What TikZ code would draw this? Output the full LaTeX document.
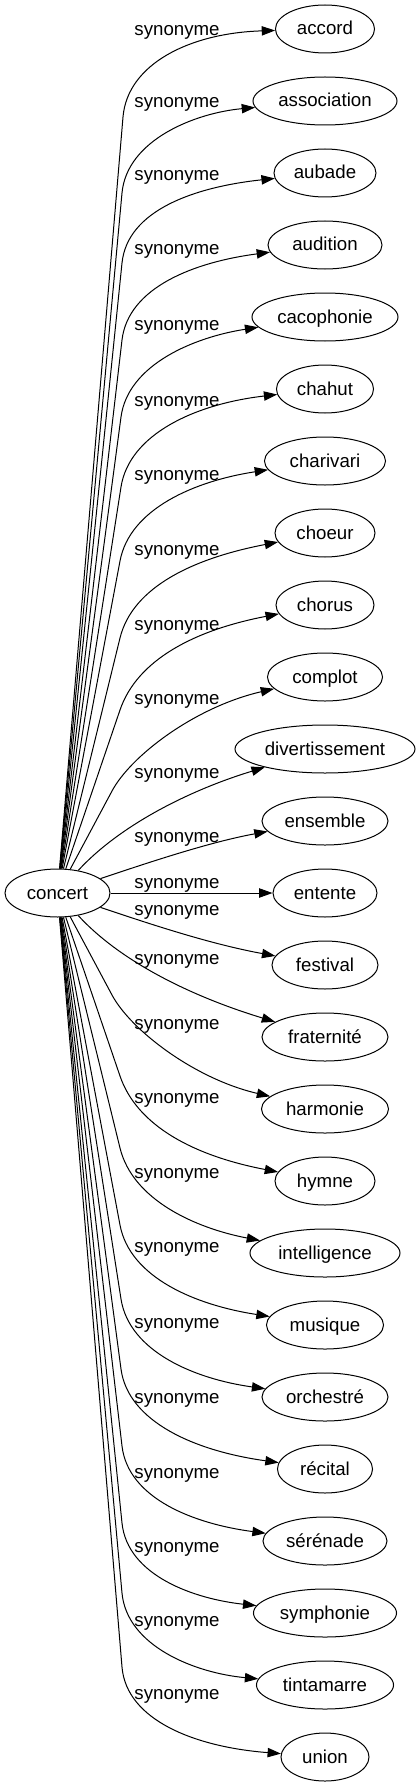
\documentclass[tikz,border=0pt]{standalone}
\usepackage{fontspec}
\setmainfont{Liberation Sans}
\usetikzlibrary{shapes.geometric,arrows.meta,calc}

\begin{document}
\begin{tikzpicture}[x=0.75pt,y=-0.75pt,line width=0.75pt,
    font=\fontsize{14pt}{17pt}\selectfont,
    word/.style={draw,ellipse,inner sep=1pt,minimum height=36pt,text height=12pt,text depth=3pt},
    rel/.style={inner sep=0pt,text height=12pt,text depth=3pt},
    syn/.style={-{Triangle[length=10pt,width=7pt]}}]
  \useasboundingbox (0,0) rectangle (420,1787);
  \draw
    (57.5,893) node[word,minimum width=78.8pt] (concert) {concert}
    (325,29) node[word,minimum width=74.3pt] (accord) {accord}
    (325,101) node[word,minimum width=108pt] (association) {association}
    (325,173) node[word,minimum width=76.5pt] (aubade) {aubade}
    (325,245) node[word,minimum width=85.5pt] (audition) {audition}
    (325,317) node[word,minimum width=109.5pt] (cacophonie) {cacophonie}
    (325,389) node[word,minimum width=72.8pt] (chahut) {chahut}
    (325,461) node[word,minimum width=90.8pt] (charivari) {charivari}
    (325,533) node[word,minimum width=75pt] (choeur) {choeur}
    (325,605) node[word,minimum width=73.5pt] (chorus) {chorus}
    (325,677) node[word,minimum width=86.3pt] (complot) {complot}
    (325,749) node[word,minimum width=135pt] (divertissement) {divertissement}
    (325,821) node[word,minimum width=94.5pt] (ensemble) {ensemble}
    (325,893) node[word,minimum width=78pt] (entente) {entente}
    (325,965) node[word,minimum width=79.5pt] (festival) {festival}
    (325,1037) node[word,minimum width=94.5pt] (fraternite) {fraternité}
    (325,1109) node[word,minimum width=95.3pt] (harmonie) {harmonie}
    (325,1181) node[word,minimum width=75pt] (hymne) {hymne}
    (325,1253) node[word,minimum width=112.5pt] (intelligence) {intelligence}
    (325,1325) node[word,minimum width=87.8pt] (musique) {musique}
    (325,1397) node[word,minimum width=94.5pt] (orchestre) {orchestré}
    (325,1469) node[word,minimum width=71.3pt] (recital) {récital}
    (325,1541) node[word,minimum width=93pt] (serenade) {sérénade}
    (325,1613) node[word,minimum width=107.3pt] (symphonie) {symphonie}
    (325,1685) node[word,minimum width=102.8pt] (tintamarre) {tintamarre}
    (325,1757) node[word,minimum width=66pt] (union) {union};
  \path
    (177,30) node[rel] (s0) {synonyme}
    (177,102) node[rel] (s1) {synonyme}
    (177,175) node[rel] (s2) {synonyme}
    (177,249) node[rel] (s3) {synonyme}
    (177,324) node[rel] (s4) {synonyme}
    (177,400) node[rel] (s5) {synonyme}
    (177,474) node[rel] (s6) {synonyme}
    (177,549) node[rel] (s7) {synonyme}
    (177,624) node[rel] (s8) {synonyme}
    (177,698) node[rel] (s9) {synonyme}
    (177,772) node[rel] (s10) {synonyme}
    (177,836) node[rel] (s11) {synonyme}
    (177,882) node[rel] (s12) {synonyme}
    (177,909) node[rel] (s13) {synonyme}
    (177,958) node[rel] (s14) {synonyme}
    (177,1023) node[rel] (s15) {synonyme}
    (177,1097) node[rel] (s16) {synonyme}
    (177,1172) node[rel] (s17) {synonyme}
    (177,1246) node[rel] (s18) {synonyme}
    (177,1322) node[rel] (s19) {synonyme}
    (177,1397) node[rel] (s20) {synonyme}
    (177,1472) node[rel] (s21) {synonyme}
    (177,1546) node[rel] (s22) {synonyme}
    (177,1620) node[rel] (s23) {synonyme}
    (177,1693) node[rel] (s24) {synonyme};
  \begin{scope}[syn]
    \draw (concert) -- (123,117) .. controls ($(123,117)!-40pt!(concert)$) and (190,33) .. (accord);
    \draw (concert) -- (122,193) .. controls ($(122,193)!-40pt!(concert)$) and (195,113) .. (association);
    \draw (concert) -- (122,263) .. controls ($(122,263)!-40pt!(concert)$) and (195,187) .. (aubade);
    \draw (concert) -- (122,340) .. controls ($(122,340)!-40pt!(concert)$) and (195,262) .. (audition);
    \draw (concert) -- (121,417) .. controls ($(121,417)!-40pt!(concert)$) and (195,337) .. (cacophonie);
    \draw (concert) -- (121,487) .. controls ($(121,487)!-40pt!(concert)$) and (195,404) .. (chahut);
    \draw (concert) -- (120,561) .. controls ($(120,561)!-40pt!(concert)$) and (195,481) .. (charivari);
    \draw (concert) -- (120,638) .. controls ($(120,638)!-40pt!(concert)$) and (195,558) .. (choeur);
    \draw (concert) -- (120,710) .. controls ($(120,710)!-40pt!(concert)$) and (195,630) .. (chorus);
    \draw (concert) -- (112,791) .. controls ($(112,791)!-30pt!(concert)$) and (195,707) .. (complot);
    \draw (concert) .. controls (120,825) and (190,790) .. (divertissement);
    \draw (concert) .. controls (150,862) and (210,842) .. (ensemble);
    \draw (concert) -- (entente);
    \draw (concert) .. controls (150,924) and (210,944) .. (festival);
    \draw (concert) .. controls (120,961) and (190,996) .. (fraternite);
    \draw (concert) -- (112,995) .. controls ($(112,995)!-30pt!(concert)$) and (195,1079) .. (harmonie);
    \draw (concert) -- (120,1076) .. controls ($(120,1076)!-40pt!(concert)$) and (195,1156) .. (hymne);
    \draw (concert) -- (120,1148) .. controls ($(120,1148)!-40pt!(concert)$) and (195,1228) .. (intelligence);
    \draw (concert) -- (120,1225) .. controls ($(120,1225)!-40pt!(concert)$) and (195,1305) .. (musique);
    \draw (concert) -- (121,1299) .. controls ($(121,1299)!-40pt!(concert)$) and (195,1379) .. (orchestre);
    \draw (concert) -- (121,1369) .. controls ($(121,1369)!-40pt!(concert)$) and (195,1451) .. (recital);
    \draw (concert) -- (122,1446) .. controls ($(122,1446)!-40pt!(concert)$) and (195,1524) .. (serenade);
    \draw (concert) -- (122,1523) .. controls ($(122,1523)!-40pt!(concert)$) and (195,1599) .. (symphonie);
    \draw (concert) -- (122,1593) .. controls ($(122,1593)!-40pt!(concert)$) and (195,1673) .. (tintamarre);
    \draw (concert) -- (122,1667) .. controls ($(122,1667)!-40pt!(concert)$) and (195,1747) .. (union);
  \end{scope}
\end{tikzpicture}
\end{document}
